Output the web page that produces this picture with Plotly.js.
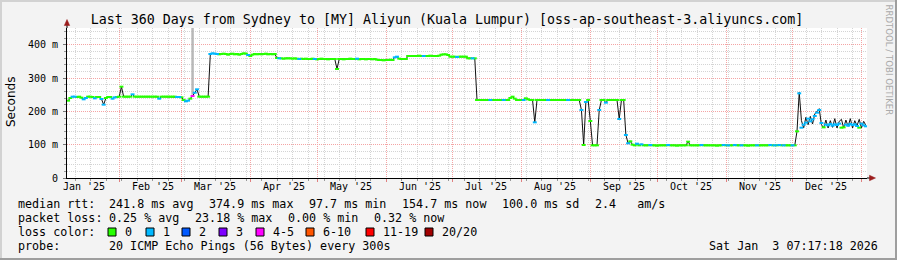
<!DOCTYPE html>
<html><head><meta charset="utf-8">
<script src="https://cdn.plot.ly/plotly-3.0.1.min.js"></script>
<style>html,body{margin:0;padding:0;background:#f3f3f3;}#chart{width:897px;height:260px;}</style>
</head><body><div id="chart"></div>
<script>
// ---- data ----
const startTime = '2025-01-08 07:17:18';
const endTime = '2026-01-03 07:17:18';
const medianRtt = [
232,240,244,244,243,244,241,236,240,244,244,243,239,243,243,237,220,240,243,243,
238,242,243,244,274,244,244,244,244,251,244,244,244,244,244,244,244,244,244,244,
244,238,244,244,244,244,244,244,244,243,243,242,234,230,232,238,246,256,266,244,
244,244,244,244,372,374,373,372,371,372,373,372,370,372,373,371,372,370,372,374,
373,369,366,370,372,371,372,371,372,373,371,372,371,372,360,359,359,358,359,359,
359,358,359,358,357,358,357,358,357,357,358,357,356,357,358,357,357,356,357,357,
357,327,357,357,356,357,357,358,357,357,358,356,357,357,356,357,357,356,357,355,
354,354,353,354,354,355,354,362,364,358,357,357,357,366,366,366,366,366,367,366,
366,366,366,367,366,366,366,367,370,371,371,369,364,364,364,363,364,364,364,364,
359,359,359,359,234,234,234,234,234,234,234,234,234,234,234,234,234,234,234,240,
244,238,234,234,234,234,239,236,234,234,167,234,234,234,234,234,234,234,234,234,
234,234,234,234,234,234,234,234,234,234,234,204,99,228,234,171,98,98,98,204,
234,234,226,234,234,234,234,234,177,234,234,129,104,110,100,98,103,98,101,98,
98,98,99,98,98,97,98,98,98,98,99,98,98,98,97,98,98,98,98,109,
98,98,98,98,98,99,98,98,98,98,98,98,97,98,98,99,98,98,98,98,
99,98,98,98,98,98,97,98,98,98,98,98,98,98,98,98,99,98,98,98,
99,98,98,98,98,98,98,98,
140,254,
151,160,166,178,170,176,186,196,204,165,
152,160,158,162,157,161,159,163,151,152,
160,157,162,159,161,156,151,163,158,155
];
const lossOneDays = [2,3,7,8,12,15,16,20,21,29,41,49,50,53,54,57,58,64,65,66,67,81,95,104,111,130,147,148,160,175,182,190,196,205,210,216,225,231,233,239,242,248,251,252,256,258,262,270,285,295,297,300,303,310,316,318,320,322,326,329,330,331,332,333,334,335,336,337,338,339,341,342,343,344,345,346,347,350,351,352,353,354,355,357,358,359];
const lossFourFiveDays = [56];
const smokeDecStart = 328;
const smokeDec = [140,257,172,150,182,160,185,162,192,200,208,160,150,174,150,172,152,178,150,170,176,150,174,155,178,150,172,157,176,150,170,158];
const smokeSpikeDay = 56;
const smokeSpikeRange = [250, 480];
const monthStarts = ['2025-02-01','2025-03-01','2025-04-01','2025-05-01','2025-06-01','2025-07-01','2025-08-01','2025-09-01','2025-10-01','2025-11-01','2025-12-01','2026-01-01'];
const monthLabelDates = ['2025-01-16','2025-02-16','2025-03-16','2025-04-16','2025-05-16','2025-06-16','2025-07-16','2025-08-16','2025-09-16','2025-10-16','2025-11-16','2025-12-16'];
const monthLabels = ["Jan '25","Feb '25","Mar '25","Apr '25","May '25","Jun '25","Jul '25","Aug '25","Sep '25","Oct '25","Nov '25","Dec '25"];
const yTickVals = [0,100,200,300,400];
const yTickText = ['0','100 m','200 m','300 m','400 m'];
const lossLabels = ['0','1','2','3','4-5','6-10','11-19','20/20'];
const lossColors = ['#26ff00','#00b8ff','#0059ff','#7e00ff','#ff00ff','#ff5500','#ff0000','#a10000'];
const rowHeads = ['median rtt:','packet loss:','loss color:','probe:'];
const medianStats = ['241.8 ms avg','374.9 ms max','97.7 ms min','154.7 ms now','100.0 ms sd','2.4   am/s'];
const lossStats = ['0.25 % avg','23.18 % max','0.00 % min','0.32 % now'];
const probeText = '20 ICMP Echo Pings (56 Bytes) every 300s';
const dateStamp = 'Sat Jan  3 07:17:18 2026';
const titleText = 'Last 360 Days from Sydney to [MY] Aliyun (Kuala Lumpur) [oss-ap-southeast-3.aliyuncs.com]';

// ---- layout positions (pixels) ----
const medianStatX = [107,207,307,400,500,593];
const lossStatX = [107,193,286,372];
const boxLeft = [108,146,182,219,256,306,366,425];
const rowY = [204.3,218.3,232.2,246.2];

// ---- helpers ----
const t0 = Date.UTC(2025,0,8,7,17,18);
function dayDate(i){ return new Date(t0 + (i+0.5)*86400000).toISOString().replace('T',' ').slice(0,19); }
const PX = p => (p-67)/800;
const PY = p => (178-p)/150;
const nb = s => s.replace(/ /g,'\u00a0');

const xs = medianRtt.map((v,i)=>dayDate(i));
const darkY = medianRtt.map((v,i)=> i>=smokeDecStart ? smokeDec[i-smokeDecStart] : v);
const blueSet = new Set(lossOneDays), magSet = new Set(lossFourFiveDays);
function pick(fn){ const x=[],y=[]; medianRtt.forEach((v,i)=>{ if(fn(i)){x.push(xs[i]);y.push(v);} }); return {x,y}; }
const g = pick(i=>!blueSet.has(i)&&!magSet.has(i));
const b = pick(i=>blueSet.has(i));
const m = pick(i=>magSet.has(i));
function medMarkers(d,color){ return {type:'scatter',mode:'markers',x:d.x,y:d.y,hoverinfo:'skip',
  marker:{symbol:'line-ew',size:2.8,color:color,line:{color:color,width:2}}}; }

const traces = [
 {type:'scatter',mode:'lines',x:[dayDate(smokeSpikeDay),dayDate(smokeSpikeDay)],y:smokeSpikeRange,line:{color:'#b8b8b8',width:2.5},hoverinfo:'skip'},
 {type:'scatter',mode:'lines',x:xs,y:darkY,line:{color:'#111111',width:1},hoverinfo:'skip'},
 medMarkers(g,lossColors[0]),
 medMarkers(b,lossColors[1]),
 medMarkers(m,lossColors[4])
];

const mono = 'DejaVu Sans Mono';
const annotations = [];
function txt(px,py,t,anchor){ annotations.push({x:PX(px),xref:'paper',y:PY(py),yref:'paper',text:nb(t),showarrow:false,xanchor:anchor||'left',yanchor:'middle',font:{family:mono,size:11.7,color:'#000'}}); }
monthLabels.forEach((t,k)=>annotations.push({x:monthLabelDates[k],xref:'x',y:PY(186.5),yref:'paper',text:nb(t),showarrow:false,xanchor:'center',yanchor:'middle',font:{family:mono,size:10,color:'#000'}}));
rowHeads.forEach((t,k)=>txt(16,rowY[k],t));
medianStats.forEach((t,k)=>txt(medianStatX[k],rowY[0],t));
lossStats.forEach((t,k)=>txt(lossStatX[k],rowY[1],t));
txt(107,rowY[3],probeText);
txt(880,rowY[3],dateStamp,'right');
annotations.push({x:PX(11),xref:'paper',y:PY(102),yref:'paper',text:'Seconds',textangle:-90,showarrow:false,xanchor:'center',yanchor:'middle',font:{family:'DejaVu Sans',size:12,color:'#000'}});
annotations.push({x:PX(888.5),xref:'paper',y:PY(60),yref:'paper',text:'RRDTOOL / TOBI OETIKER',textangle:90,showarrow:false,xanchor:'center',yanchor:'middle',font:{family:'DejaVu Sans',size:8.6,color:'#aaaaaa'}});

const shapes = [];
lossLabels.forEach((t,k)=>{
  shapes.push({type:'rect',xref:'paper',yref:'paper',x0:PX(boxLeft[k]),x1:PX(boxLeft[k]+8),y0:PY(236),y1:PY(228),fillcolor:lossColors[k],line:{color:'#000',width:1}});
  txt(boxLeft[k]+15,rowY[2],t);
});
// frame
shapes.push({type:'rect',xref:'paper',yref:'paper',x0:PX(0),x1:PX(897),y0:PY(2),y1:PY(0),fillcolor:'#d2d2d2',line:{width:0}});
shapes.push({type:'rect',xref:'paper',yref:'paper',x0:PX(0),x1:PX(2),y0:PY(260),y1:PY(0),fillcolor:'#d2d2d2',line:{width:0}});
shapes.push({type:'rect',xref:'paper',yref:'paper',x0:PX(895),x1:PX(897),y0:PY(260),y1:PY(0),fillcolor:'#9e9e9e',line:{width:0}});
shapes.push({type:'rect',xref:'paper',yref:'paper',x0:PX(0),x1:PX(897),y0:PY(260),y1:PY(258),fillcolor:'#9e9e9e',line:{width:0}});
// axis extensions and arrows
shapes.push({type:'line',xref:'paper',yref:'paper',x0:PX(67),x1:PX(67),y0:PY(28),y1:PY(24),line:{color:'#000',width:1}});
shapes.push({type:'line',xref:'paper',yref:'paper',x0:PX(867),x1:PX(871),y0:PY(178),y1:PY(178),line:{color:'#000',width:1}});
shapes.push({type:'path',xref:'paper',yref:'paper',path:`M ${PX(64.3)} ${PY(25.5)} L ${PX(67)} ${PY(19.5)} L ${PX(69.7)} ${PY(25.5)} Z`,fillcolor:'#9b1c1c',line:{color:'#9b1c1c',width:0.5}});
shapes.push({type:'path',xref:'paper',yref:'paper',path:`M ${PX(869.5)} ${PY(175.3)} L ${PX(875.5)} ${PY(178)} L ${PX(869.5)} ${PY(180.7)} Z`,fillcolor:'#9b1c1c',line:{color:'#9b1c1c',width:0.5}});

const gridRed = '#f4a4a4', gridGray = '#d4d4d4';
const layout = {
  width:897,height:260,
  margin:{l:67,r:30,t:28,b:82,pad:0},
  paper_bgcolor:'#f3f3f3',plot_bgcolor:'#ffffff',
  showlegend:false,
  title:{text:nb(titleText),font:{family:mono,size:13.3,color:'#000'},x:447/897,xanchor:'center',xref:'container',y:1-19/260,yanchor:'middle',yref:'container'},
  xaxis:{type:'date',range:[startTime,endTime],tickmode:'array',tickvals:monthStarts,showticklabels:false,
    ticks:'outside',ticklen:3,tickcolor:'#e08080',showgrid:true,gridcolor:gridRed,griddash:'1px,1px',gridwidth:1,
    showline:true,linecolor:'#000',linewidth:1,zeroline:false,fixedrange:true,
    minor:{tickmode:'linear',tick0:'2024-12-29',dtick:604800000,showgrid:true,gridcolor:gridGray,griddash:'1px,1px',ticks:'outside',ticklen:2,tickcolor:'#999'}},
  yaxis:{range:[0,450],tickmode:'array',tickvals:yTickVals,ticktext:yTickText.map(nb),tickfont:{family:mono,size:10,color:'#000'},
    ticks:'outside',ticklen:3,tickcolor:'#777',ticklabelstandoff:3,showgrid:true,gridcolor:gridRed,griddash:'1px,1px',gridwidth:1,
    showline:true,linecolor:'#000',linewidth:1,zeroline:false,fixedrange:true,
    minor:{tickmode:'linear',tick0:0,dtick:20,showgrid:true,gridcolor:gridGray,griddash:'1px,1px',ticks:'outside',ticklen:2,tickcolor:'#999'}},
  annotations:annotations,
  shapes:shapes
};
Plotly.newPlot('chart',traces,layout,{staticPlot:true,displayModeBar:false});
</script></body></html>
